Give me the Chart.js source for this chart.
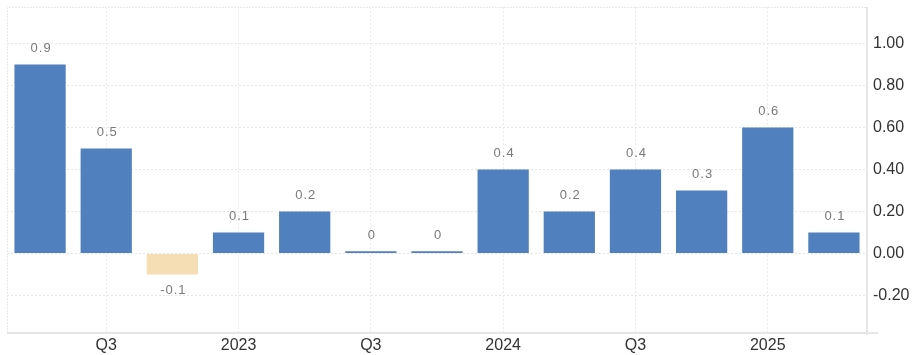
<!DOCTYPE html>
<html>
<head>
<meta charset="utf-8">
<script src="https://cdn.jsdelivr.net/npm/chart.js@4.4.0/dist/chart.umd.min.js"></script>
<style>
  html, body { margin: 0; padding: 0; background: #fff; }
  #wrap { width: 915px; height: 355px; }
</style>
</head>
<body>
<div id="wrap"><canvas id="chartJSContainer"></canvas></div>
<script>
const quarters = ["2022 Q2", "2022 Q3", "2022 Q4", "2023 Q1", "2023 Q2", "2023 Q3", "2023 Q4",
                  "2024 Q1", "2024 Q2", "2024 Q3", "2024 Q4", "2025 Q1", "2025 Q2"];
const tickNames = ["", "Q3", "", "2023", "", "Q3", "", "2024", "", "Q3", "", "2025", ""];
const growth = [0.9, 0.5, -0.1, 0.1, 0.2, 0.01, 0.01, 0.4, 0.2, 0.4, 0.3, 0.6, 0.1];
const yTicks = [-0.2, 0, 0.2, 0.4, 0.6, 0.8, 1.0];

const blue = "#5080bd";
const sand = "#f5deb3";

// value labels above / below each bar
const barLabels = {
  id: "barLabels",
  afterDatasetsDraw(chart) {
    const ctx = chart.ctx;
    const meta = chart.getDatasetMeta(0);
    ctx.save();
    ctx.font = "13px 'Liberation Sans', Arial, sans-serif";
    ctx.letterSpacing = "1px";
    ctx.fillStyle = "#7a7a7a";
    ctx.textAlign = "center";
    ctx.textBaseline = "middle";
    meta.data.forEach((bar, i) => {
      const v = growth[i];
      const txt = String(Number(v.toFixed(1)));
      const y = v < 0 ? bar.y + 16 : bar.y - 16;
      ctx.fillText(txt, bar.x + 1, y);
    });
    ctx.restore();
  }
};

// light frame around the plot
const frame = {
  id: "frame",
  beforeDatasetsDraw(chart) {
    const a = chart.chartArea;
    const ctx = chart.ctx;
    ctx.save();
    ctx.strokeStyle = "#e8e8e8";
    ctx.lineWidth = 1;
    ctx.setLineDash([2, 1]);
    ctx.beginPath();
    ctx.moveTo(a.left + 0.5, a.bottom);
    ctx.lineTo(a.left + 0.5, a.top + 0.5);
    ctx.lineTo(a.right, a.top + 0.5);
    ctx.stroke();
    ctx.setLineDash([]);
    ctx.strokeStyle = "#e6e6e6";
    ctx.lineWidth = 2;
    ctx.beginPath();
    ctx.moveTo(a.left, a.bottom);
    ctx.lineTo(a.right + 11, a.bottom);
    ctx.moveTo(a.right, a.top);
    ctx.lineTo(a.right, a.bottom + 2);
    ctx.stroke();
    ctx.restore();
  }
};

new Chart(document.getElementById("chartJSContainer"), {
  type: "bar",
  data: {
    labels: quarters,
    datasets: [{
      data: growth,
      backgroundColor: growth.map(v => v < 0 ? sand : blue),
      borderWidth: 0,
      barPercentage: 0.775,
      categoryPercentage: 1
    }]
  },
  options: {
    responsive: true,
    maintainAspectRatio: false,
    animation: false,
    layout: { padding: { left: 7, top: 7, right: 0, bottom: 0 } },
    plugins: { legend: { display: false }, tooltip: { enabled: false } },
    scales: {
      x: {
        grid: {
          offset: false,
          drawTicks: false,
          color: ctx => (ctx.index !== undefined && tickNames[ctx.index]) ? "#ebebeb" : "rgba(0,0,0,0)"
        },
        border: { display: false, dash: [2, 2] },
        ticks: {
          autoSkip: false,
          maxRotation: 0,
          padding: 3,
          color: "#333",
          font: { family: "'Liberation Sans', Arial, sans-serif", size: 16 },
          callback: (val, i) => tickNames[i]
        },
        afterFit: s => { s.height = 22; s.paddingLeft = 0; s.paddingRight = 0; }
      },
      y: {
        position: "right",
        min: -0.379,
        max: 1.174,
        afterBuildTicks: s => { s.ticks = yTicks.map(v => ({ value: v })); },
        grid: { drawTicks: false, color: "#e6e6e6" },
        border: { display: false, dash: [2, 2] },
        ticks: {
          padding: 6,
          color: "#333",
          font: { family: "'Liberation Sans', Arial, sans-serif", size: 16 },
          callback: v => v.toFixed(2)
        },
        afterFit: s => { s.width = 48; s.paddingTop = 0; s.paddingBottom = 0; }
      }
    }
  },
  plugins: [frame, barLabels]
});
</script>
</body>
</html>
